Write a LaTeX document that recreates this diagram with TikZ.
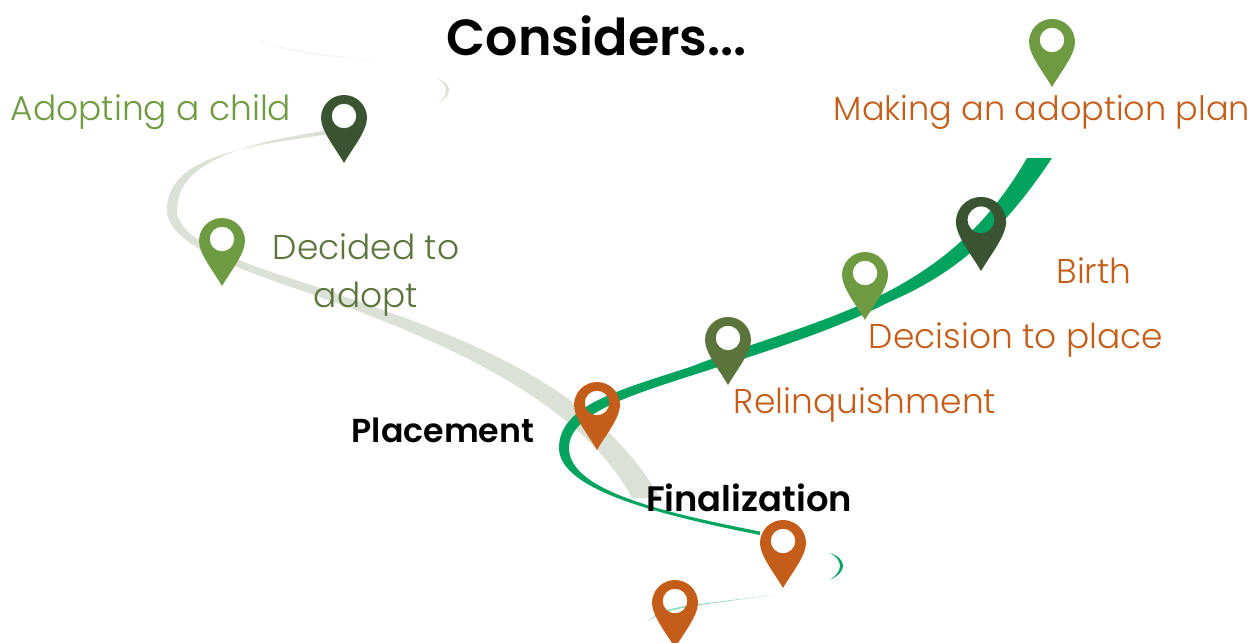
\documentclass[tikz,border=0pt]{standalone}
\usepackage{fontspec}
\setmainfont{Poppins Light}[BoldFont={Poppins SemiBold}]
\usetikzlibrary{positioning}
\definecolor{PathGreen}{HTML}{02A35F}
\definecolor{PathGrey}{HTML}{DCE1D7}
\definecolor{DarkLeaf}{HTML}{3A5431}
\definecolor{Leaf}{HTML}{6E9A42}
\definecolor{Olive}{HTML}{5A743C}
\definecolor{Rust}{HTML}{C45D19}

\begin{document}
\begin{tikzpicture} [x=0.02cm, y=-0.02cm,
	   every node/.style={font=\fontsize{19.6}{27.4}\selectfont, inner sep=0pt, align=center},
	   stagelabel/.style = {text=#1},
	   boldlabel/.style = {font=\fontsize{#1}{27}\selectfont\bfseries, text=black},
	   pinmark/.pic = {\fill[even odd rule, pic actions] (0,45) .. controls (-8,31) and (-23,13) .. (-23,0)
	                   arc[start angle=180, end angle=360, radius=23]
	                   .. controls (23,13) and (8,31) .. (0,45) -- cycle
	                   (0,-2) circle[radius=12.3];}]
	\useasboundingbox (0,0) rectangle (1253,642);

	%% Fading ends
	\fill[PathGrey!35] (255,38) .. controls (285,52) and (330,54) .. (378,62) .. controls (330,56) and (285,54) .. (255,38) -- cycle;
	\fill[PathGrey] (437,78) .. controls (446,82) and (449,86) .. (449,90) .. controls (449,95) and (445,99) .. (438,103)
	                .. controls (443,99) and (446,95) .. (446,90) .. controls (446,86) and (443,82) .. (437,78) -- cycle;
	\fill[PathGreen] (830,553) .. controls (839,556) and (843,561) .. (843,566) .. controls (843,571) and (838,576) .. (830,580)
	                .. controls (836,576) and (840,571) .. (840,566) .. controls (840,561) and (836,556) .. (830,553) -- cycle;
	\fill[PathGreen!45] (772,595) -- (700,604) .. controls (675,607) and (660,610) .. (647,622)
	                .. controls (660,612) and (675,609) .. (700,605) -- cycle;

	%% Grey path
	\fill[PathGrey] (330,130) .. controls (250,142) and (177,160) .. (177,210)
	                .. controls (177,245) and (260,268) .. (317,287)
	                .. controls (440,330) and (590,375) .. (660,498)
	                -- (632,498) .. controls (580,400) and (440,340) .. (317,296)
	                .. controls (255,274) and (167,248) .. (167,210)
	                .. controls (167,155) and (250,146) .. (330,134) -- cycle;

	%% Green path
	\fill[PathGreen] (1027,158) .. controls (990,222) and (945,262) .. (887,292)
	                .. controls (830,322) and (760,340) .. (690,367)
	                .. controls (620,390) and (559,405) .. (559,448)
	                .. controls (559,490) and (660,515) .. (760,535)
	                -- (760,531.5) .. controls (660,512) and (569,490) .. (569,448)
	                .. controls (569,415) and (625,397) .. (690,376)
	                .. controls (765,352) and (835,330) .. (887,303)
	                .. controls (935,282) and (990,252) .. (1052,158) -- cycle;

	%% Pins
	\pic[DarkLeaf] (pinadopting) at (344,118) {pinmark};
	\pic[Leaf] (pindecided) at (222,241) {pinmark};
	\pic[Leaf] (pinmaking) at (1052,42) {pinmark};
	\pic[DarkLeaf, scale=1.09] (pinbirth) at (981,222) {pinmark};
	\pic[Leaf] (pindecision) at (865,275) {pinmark};
	\pic[Olive] (pinrelinquish) at (728,340) {pinmark};
	\pic[Rust] (pinplacement) at (597,405) {pinmark};
	\pic[Rust] (pinfinal) at (783,543) {pinmark};
	\pic[Rust] (pinlast) at (675,603) {pinmark};

	%% Labels
	\node[font=\fontsize{28.9}{32}\selectfont\bfseries, text=black] (title) at (597,36) {Considers...};
	\node[stagelabel=Leaf] (adopting) at (151,112) {Adopting a child};
	\node[stagelabel=Rust, font=\fontsize{19.1}{27}\selectfont] (making) at (1042,112) {Making an adoption plan};
	\node[stagelabel=Olive] (decided) at (366,275) {Decided to\\adopt};
	\node[stagelabel=Rust] (birth) at (1094,271) {Birth};
	\node[stagelabel=Rust] (decision) at (1016,340) {Decision to place};
	\node[stagelabel=Rust] (relinquish) at (865,405) {Relinquishment};
	\node[boldlabel=18.9] (placement) at (443,430) {Placement};
	\node[boldlabel=20.1] (finalization) at (749,498) {Finalization};
\end{tikzpicture}
\end{document}
